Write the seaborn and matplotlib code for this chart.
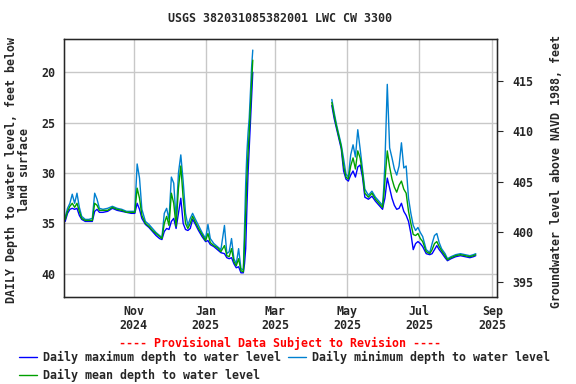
import pandas as pd
import numpy as np
import matplotlib
matplotlib.use('Agg')
import matplotlib.pyplot as plt
from matplotlib.lines import Line2D
import seaborn as sns

# Данные (глубина до воды, футы)
dates_1 = ['2024-09-04', '2024-09-06', '2024-09-08', '2024-09-10', '2024-09-12', '2024-09-14',
           '2024-09-16', '2024-09-18', '2024-09-21', '2024-09-24', '2024-09-27', '2024-09-29',
           '2024-10-01', '2024-10-03', '2024-10-06', '2024-10-10', '2024-10-14', '2024-10-18',
           '2024-10-22', '2024-10-26', '2024-10-30', '2024-11-02', '2024-11-04', '2024-11-06',
           '2024-11-08', '2024-11-11', '2024-11-14', '2024-11-17', '2024-11-20', '2024-11-23',
           '2024-11-25', '2024-11-27', '2024-11-29', '2024-12-01', '2024-12-03', '2024-12-05',
           '2024-12-07', '2024-12-09', '2024-12-11', '2024-12-13', '2024-12-15', '2024-12-17',
           '2024-12-19', '2024-12-21', '2024-12-23', '2024-12-26', '2024-12-29', '2025-01-01',
           '2025-01-03', '2025-01-05', '2025-01-08', '2025-01-11', '2025-01-14', '2025-01-17',
           '2025-01-19', '2025-01-21', '2025-01-23', '2025-01-25', '2025-01-27', '2025-01-29',
           '2025-01-31', '2025-02-02', '2025-02-03', '2025-02-04', '2025-02-05', '2025-02-06',
           '2025-02-07', '2025-02-08', '2025-02-09', '2025-02-10']
max_1 = [34.8, 34.0, 33.6, 33.5, 33.6, 33.5, 34.2, 34.6, 34.8, 34.8, 34.8, 33.8,
         33.6, 33.9, 33.9, 33.8, 33.5, 33.7, 33.8, 33.9, 34.0, 34.0, 33.0, 33.6,
         34.5, 35.1, 35.4, 35.8, 36.2, 36.5, 36.6, 35.8, 35.5, 35.6, 34.8, 34.5,
         35.5, 34.0, 32.5, 35.0, 35.6, 35.7, 35.5, 34.6, 35.0, 35.7, 36.3, 36.8,
         36.7, 37.1, 37.3, 37.6, 37.9, 38.0, 38.4, 38.5, 38.4, 39.0, 39.4, 39.3,
         39.9, 39.9, 39.0, 37.5, 33.5, 30.0, 27.5, 25.0, 22.5, 20.0]
mean_1 = [34.6, 33.8, 33.3, 33.0, 33.4, 33.0, 33.8, 34.5, 34.7, 34.7, 34.7, 33.0,
          33.2, 33.7, 33.7, 33.7, 33.4, 33.6, 33.7, 33.9, 33.9, 33.9, 31.5, 32.5,
          34.2, 35.0, 35.3, 35.7, 36.0, 36.3, 36.5, 35.0, 34.3, 35.2, 32.0, 33.0,
          35.3, 31.5, 29.3, 32.5, 35.0, 35.5, 35.0, 34.3, 34.8, 35.5, 36.1, 36.7,
          36.0, 36.9, 37.2, 37.4, 37.8, 37.2, 38.2, 38.3, 37.5, 38.8, 39.2, 38.5,
          39.7, 39.8, 37.0, 34.0, 30.5, 28.0, 26.0, 23.5, 21.0, 18.8]
min_1 = [34.4, 33.5, 33.0, 32.1, 33.0, 32.0, 33.4, 34.3, 34.6, 34.6, 34.5, 32.0,
         32.6, 33.5, 33.6, 33.5, 33.3, 33.5, 33.6, 33.8, 33.8, 33.8, 29.1, 30.5,
         33.6, 34.8, 35.1, 35.5, 35.9, 36.2, 36.4, 34.0, 33.5, 34.6, 30.4, 31.0,
         34.6, 30.0, 28.2, 30.8, 34.0, 35.2, 34.5, 34.0, 34.5, 35.2, 35.9, 36.5,
         35.1, 36.5, 37.0, 37.3, 37.6, 35.2, 38.0, 37.8, 36.5, 38.5, 39.0, 37.5,
         39.5, 39.6, 35.5, 31.0, 28.0, 26.0, 24.5, 22.0, 19.5, 17.8]

dates_2 = ['2025-04-18', '2025-04-20', '2025-04-22', '2025-04-24', '2025-04-26', '2025-04-28',
           '2025-04-30', '2025-05-02', '2025-05-04', '2025-05-06', '2025-05-08', '2025-05-10',
           '2025-05-12', '2025-05-14', '2025-05-16', '2025-05-19', '2025-05-22', '2025-05-25',
           '2025-05-28', '2025-05-31', '2025-06-01', '2025-06-02', '2025-06-04', '2025-06-06',
           '2025-06-08', '2025-06-10', '2025-06-12', '2025-06-14', '2025-06-16', '2025-06-18',
           '2025-06-20', '2025-06-22', '2025-06-24', '2025-06-26', '2025-06-28', '2025-06-30',
           '2025-07-02', '2025-07-04', '2025-07-07', '2025-07-10', '2025-07-12', '2025-07-14',
           '2025-07-16', '2025-07-18', '2025-07-20', '2025-07-23', '2025-07-25', '2025-07-28',
           '2025-08-01', '2025-08-05', '2025-08-09', '2025-08-13', '2025-08-16', '2025-08-18']
max_2 = [23.3, 24.6, 25.6, 26.6, 27.6, 29.8, 30.6, 30.8, 30.2, 29.8, 30.4, 29.4,
         29.2, 30.4, 32.4, 32.6, 32.3, 32.8, 33.2, 33.6, 33.0, 32.5, 30.5, 31.5,
         32.5, 33.2, 33.6, 33.5, 33.0, 33.8, 34.2, 34.8, 36.0, 37.6, 37.0, 36.8,
         37.0, 37.3, 38.0, 38.1, 38.0, 37.6, 37.2, 37.6, 37.9, 38.4, 38.7, 38.5,
         38.3, 38.2, 38.3, 38.4, 38.3, 38.2]
mean_2 = [23.0, 24.3, 25.4, 26.4, 27.4, 29.3, 30.4, 30.6, 29.3, 28.5, 29.6, 27.8,
          28.5, 30.0, 32.0, 32.4, 32.0, 32.6, 33.0, 33.4, 32.3, 30.8, 27.8, 29.4,
          30.6, 31.4, 31.9, 31.2, 30.8, 31.6, 32.0, 33.8, 35.0, 36.1, 36.2, 36.0,
          36.5, 36.8, 37.8, 38.0, 37.6, 37.0, 36.8, 37.3, 37.7, 38.2, 38.6, 38.4,
          38.2, 38.1, 38.2, 38.3, 38.2, 38.1]
min_2 = [22.7, 24.0, 25.2, 26.2, 27.2, 28.6, 30.1, 30.4, 28.2, 27.2, 28.4, 25.7,
         27.6, 29.6, 31.6, 32.2, 31.8, 32.4, 32.8, 33.2, 31.5, 29.0, 21.2, 27.5,
         28.5, 29.6, 30.2, 29.3, 27.0, 29.5, 29.3, 32.5, 34.0, 35.2, 35.7, 35.4,
         35.9, 36.3, 37.6, 37.9, 37.0, 36.2, 36.0, 36.9, 37.5, 38.0, 38.5, 38.3,
         38.1, 38.0, 38.1, 38.2, 38.1, 38.0]

DATUM = 435.85  # уровень над NAVD 1988 = DATUM - глубина
FS = 8.4

labels = ['Daily maximum depth to water level',
          'Daily minimum depth to water level',
          'Daily mean depth to water level']
colors = {labels[0]: '#0000ff', labels[1]: '#0080d0', labels[2]: '#00a000'}

# Сборка длинной таблицы
frames = []
for seg, (d, mx, mn, me) in enumerate([(dates_1, max_1, min_1, mean_1),
                                       (dates_2, max_2, min_2, mean_2)]):
    for lab, vals in zip(labels, [mx, mn, me]):
        frames.append(pd.DataFrame({'date': pd.to_datetime(d), 'depth': vals,
                                    'series': lab, 'seg': seg}))
df = pd.concat(frames, ignore_index=True)

sns.set_style('white')
plt.rcParams['font.family'] = ['DejaVu Sans Mono']
plt.rcParams['font.weight'] = 'bold'

fig = plt.figure(figsize=(5.76, 3.84), dpi=100)
ax = fig.add_axes([64 / 576, 1 - 297 / 384, 433 / 576, 258 / 384])

sns.lineplot(data=df, x='date', y='depth', hue='series', hue_order=labels,
             units='seg', estimator=None, palette=colors, linewidth=1.0,
             legend=False, ax=ax)

ax.set_xlim(pd.Timestamp('2024-09-03'), pd.Timestamp('2025-09-05'))
ax.set_ylim(42.3, 16.7)
ax.set_yticks([20, 25, 30, 35, 40])
xt = pd.to_datetime(['2024-11-01', '2025-01-01', '2025-03-01', '2025-05-01',
                     '2025-07-01', '2025-09-01'])
ax.set_xticks(xt)
ax.set_xticklabels([f"{t.strftime('%b')}\n{t.year}" for t in xt], linespacing=1.05)
ax.grid(True, color='#c8c8c8', linewidth=1.0)
ax.tick_params(axis='both', length=0, labelsize=FS, pad=6)
ax.set_xlabel('')
ax.set_ylabel('')
for s in ax.spines.values():
    s.set_color('black')
    s.set_linewidth(1.0)

ax2 = ax.twinx()
ax2.set_ylim(DATUM - 42.3, DATUM - 16.7)
ax2.set_yticks([395, 400, 405, 410, 415])
ax2.tick_params(axis='y', length=4, labelsize=FS, pad=7)
ax2.grid(False)

fig.text(280 / 576, 1 - 19 / 384, 'USGS 382031085382001 LWC CW 3300',
         ha='center', va='center', fontsize=FS, fontweight='bold')
fig.text(18 / 576, 1 - 170 / 384, 'DAILY Depth to water level, feet below\nland surface',
         rotation=90, ha='center', va='center', multialignment='center',
         fontsize=FS, fontweight='bold', linespacing=1.0)
fig.text(557 / 576, 1 - 172 / 384, 'Groundwater level above NAVD 1988, feet',
         rotation=90, ha='center', va='center', fontsize=FS, fontweight='bold')
fig.text(280 / 576, 1 - 343 / 384, '---- Provisional Data Subject to Revision ----',
         ha='center', va='center', color='red', fontsize=FS, fontweight='bold')

# Легенда: построчно (max, min) / (mean)
order = [labels[0], labels[2], labels[1]]
handles = [Line2D([], [], color=colors[l], linewidth=1.0) for l in order]
fig.legend(handles, order, loc='upper left', bbox_to_anchor=(19 / 576, 1 - 351 / 384),
           ncol=2, frameon=False, fontsize=FS, handlelength=1.55, handletextpad=0.5,
           columnspacing=0.6, labelspacing=0.4, borderpad=0, borderaxespad=0)

fig.savefig('out.png', dpi=100)
